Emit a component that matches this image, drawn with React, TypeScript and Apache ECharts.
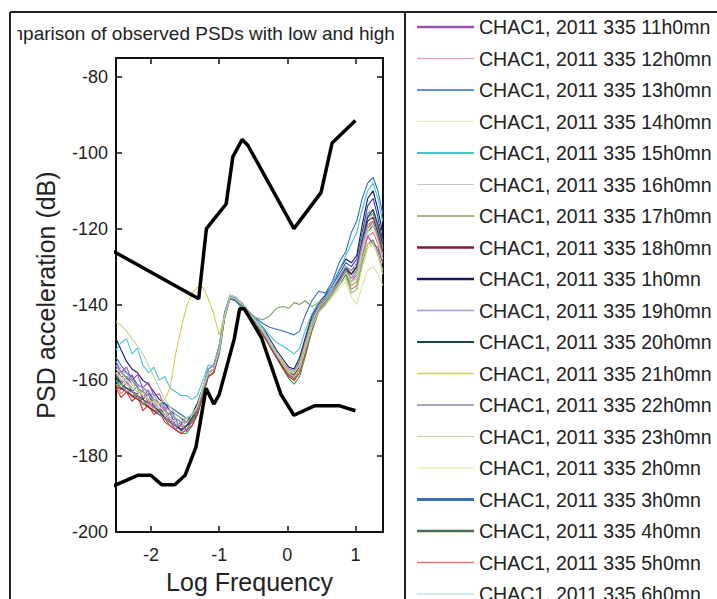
import React, { useEffect, useRef } from "react";
import * as echarts from "echarts";

const FONT = "'Liberation Sans', Arial, Helvetica, sans-serif";

const TITLE = "Comparison of observed PSDs with low and high";
const X_NAME = "Log Frequency";
const Y_NAME = "PSD acceleration (dB)";

const xTicks = [-2, -1, 0, 1];
const yTicks = [-200, -180, -160, -140, -120, -100, -80];

// log10(frequency) sampling of the observed PSD curves
const logFreq = [
  -2.515, -2.44, -2.36, -2.28, -2.2, -2.12, -2.04, -1.96, -1.88, -1.8,
  -1.72, -1.64, -1.56, -1.48, -1.4, -1.32, -1.24, -1.16, -1.08, -1.0,
  -0.92, -0.84, -0.76, -0.66, -0.56, -0.46, -0.36, -0.26, -0.16, -0.06,
  0.02, 0.1, 0.18, 0.26, 0.36, 0.46, 0.56, 0.66, 0.76, 0.86,
  0.94, 1.02, 1.1, 1.18, 1.26, 1.33, 1.4,
];

const psd0h = [
  -158, -161, -159.5, -163, -161.5, -165, -163.5, -167, -166, -170,
  -168.5, -172, -171, -173.5, -170, -167, -162, -157, -156, -151,
  -142, -137.5, -138, -140, -142, -144, -146.5, -149.5, -152.5, -155,
  -157, -157.5, -155, -150, -144, -140, -138, -135, -132, -129,
  -130, -128, -121, -114, -112, -117, -123,
];
const psd1h = [
  -149, -152, -155, -157, -158, -160, -161, -163, -165, -166,
  -168, -169, -170, -171, -169, -166, -162, -158, -157, -151,
  -142.5, -138, -138.5, -140, -142, -144, -146, -149, -152, -154.5,
  -156.5, -157, -154, -149, -143, -139.5, -137.5, -135, -131, -128,
  -129, -127, -119, -112, -110, -115, -121,
];
const psd2h = [
  -156, -158, -160, -160, -162, -163, -163, -165, -166, -168,
  -169, -170, -171, -171, -170, -168, -163, -159, -157, -152,
  -143, -138.5, -139, -140.5, -143, -145, -147.5, -150.5, -153.5, -156,
  -158, -158.5, -157, -152, -146, -142, -140, -138, -136, -134,
  -138, -140, -135, -131, -130, -132, -135,
];
const psd3h = [
  -160, -162.5, -160.5, -163, -163.5, -162.5, -166, -165, -168.5, -167.5,
  -171, -170, -173.5, -172, -171, -169, -164, -158, -157, -152,
  -143, -138, -138.5, -140, -142.5, -144.5, -147, -150, -153, -156,
  -158, -158.5, -156, -151, -145, -141, -139, -136, -133, -130,
  -132, -131, -124, -117, -115, -119, -124,
];
const psd4h = [
  -157, -159, -159, -161, -162, -164, -165, -166, -167, -169,
  -170, -171, -172, -172, -171, -169, -164, -159, -158, -153,
  -143.5, -138.5, -139, -140.5, -143, -145, -147.5, -150.5, -153.5, -156,
  -158.5, -159.5, -157, -152, -146, -141.5, -139.5, -137, -134.5, -132,
  -135, -134, -127, -121, -119, -122, -127,
];
const psd5h = [
  -161, -163.5, -162, -164.5, -164, -166.5, -165, -168, -167.5, -170,
  -170, -172, -173, -172, -171, -168, -163, -158, -157, -152,
  -143, -138, -138.5, -140, -142.5, -145, -147.5, -150.5, -153.5, -156.5,
  -159, -160, -158, -153, -147, -142, -140, -137, -135, -132,
  -136, -135, -128, -122, -121, -124, -129,
];
const psd6h = [
  -155, -157, -158, -160, -161, -162, -163, -165, -166, -167,
  -168, -170, -171, -170, -169, -167, -162, -157, -156, -151,
  -142.5, -137.5, -138, -139.5, -142, -144, -146.5, -149.5, -152.5, -155,
  -157, -157.5, -155.5, -150.5, -144.5, -140.5, -138.5, -136, -133.5, -130.5,
  -132, -131, -124, -118, -116, -120, -125,
];
const psd7h = [
  -160, -162, -163, -164, -164, -166, -167, -168, -169, -170,
  -172, -173, -174, -174, -172, -169, -164, -159, -158, -153,
  -143.5, -138, -138.5, -140, -143, -145, -147.5, -151, -154, -157,
  -159.5, -161, -159, -154, -147, -142, -140, -137.5, -135, -132,
  -137, -136, -129, -124, -123, -126, -131,
];
const psd8h = [
  -162, -164.5, -163, -165.5, -164, -168, -166.5, -169, -168, -171,
  -172, -173, -174, -173, -172, -169, -164, -159, -158, -152.5,
  -143, -138, -138.5, -140, -143, -145.5, -148, -151, -154, -157,
  -159, -160, -158, -153, -146.5, -141.5, -139.5, -137, -134, -131,
  -134, -133, -126, -120, -118, -121, -126,
];
const psd9h = [
  -159, -157.5, -160.5, -158.5, -162, -164.5, -162.5, -166.5, -168, -167,
  -171, -173, -171.5, -173, -171, -168, -163, -158, -157, -152,
  -143, -138, -138.5, -140, -142.5, -145, -147.5, -150.5, -153.5, -156,
  -158, -159, -157, -152, -146, -141.5, -139.5, -137, -134, -131,
  -134, -132, -126, -122, -124, -125, -129,
];
const psd10h = [
  -161, -162, -162, -163, -165, -165, -167, -168, -168, -170,
  -171, -172, -172, -172, -170, -168, -163, -158, -157, -152,
  -143, -138, -138.5, -140, -142.5, -145, -147, -150, -153, -155.5,
  -157.5, -158, -156, -151, -145, -141, -139, -136.5, -134, -131,
  -133, -132, -125, -120, -118, -122, -127,
];
const psd11h = [
  -155, -158, -156.5, -160, -158.5, -162, -160.5, -164, -163.5, -167,
  -168, -170, -171, -171, -170, -167, -162, -158, -157, -152,
  -143, -138, -138.5, -140, -142, -144.5, -147, -150, -153, -155.5,
  -157.5, -158, -156, -150.5, -144.5, -140.5, -138.5, -136, -133, -130,
  -131, -130, -122, -116, -115, -119, -124,
];
const psd12h = [
  -158, -160, -160, -162, -163, -163, -165, -166, -167, -168,
  -170, -171, -172, -171, -170, -168, -163, -158, -157, -152,
  -143, -138, -138.5, -140, -142.5, -144.5, -147, -150, -153, -155.5,
  -157.5, -158, -156, -151, -145, -141, -139, -136.5, -134, -131,
  -133, -132, -125, -119, -118, -121, -126,
];
const psd13h = [
  -154, -156, -158, -159, -161, -162, -163, -165, -166, -166,
  -167, -168, -169, -170, -169, -167, -162, -157, -156, -151,
  -142.5, -138, -139, -141, -142.5, -143.5, -145, -146, -146.5, -147,
  -147.5, -148, -147, -143, -139, -136.5, -137, -134, -129, -126,
  -121, -118, -112, -108, -106.5, -110, -116,
];
const psd14h = [
  -157, -158, -160, -161, -162, -163, -164, -165, -167, -168,
  -169, -170, -171, -171, -170, -168, -163, -158, -157, -152,
  -143, -138, -138.5, -140, -142.5, -144.5, -147, -150, -153, -155.5,
  -157.5, -158.5, -156.5, -151.5, -145.5, -141.5, -139.5, -137, -134.5, -131.5,
  -134, -133, -126, -121, -120, -123, -128,
];
const psd15h = [
  -152, -150, -149, -153, -151.5, -156, -158, -156.5, -160, -159,
  -162, -163, -164, -164, -165, -164, -160, -156, -156, -151,
  -142.5, -138, -138.5, -140, -142, -144, -146, -148, -150, -151,
  -152, -153, -151.5, -147, -142.5, -139.5, -138, -135, -131, -127,
  -124, -121, -115, -110, -108, -112, -118,
];
const psd16h = [
  -158, -159, -161, -162, -162, -164, -165, -166, -168, -169,
  -170, -171, -172, -172, -170, -168, -163, -158, -157, -152,
  -143, -138, -138.5, -140, -142.5, -145, -147.5, -150.5, -153.5, -156,
  -158, -159, -157, -152, -146, -141.5, -139.5, -137, -134, -131,
  -134, -133, -126, -120, -119, -123, -127,
];
const psd17h = [
  -156, -158, -159, -160, -162, -163, -164, -165, -166, -168,
  -169, -170, -171, -171, -170, -167, -162, -158, -157, -152,
  -143, -138, -138.5, -140, -142, -143.5, -144, -143, -141, -140.5,
  -141, -139.5, -140, -139, -140.5, -139.5, -138.5, -136, -133, -130,
  -132, -130, -123, -117, -116, -120, -125,
];
const psd18h = [
  -162, -162, -163, -164, -165, -166, -167, -168, -169, -170,
  -171, -172, -173, -172, -171, -168, -163, -158, -157, -152,
  -143, -138, -138.5, -140, -142.5, -145, -147.5, -150.5, -153.5, -156.5,
  -158.5, -159, -157, -152, -146, -141.5, -139.5, -137, -134, -131,
  -132, -130, -123, -118, -117, -121, -126,
];
const psd19h = [
  -156, -158, -158, -160, -161, -162, -163, -164, -166, -167,
  -168, -170, -171, -170, -169, -167, -162, -157, -156, -151,
  -142.5, -138, -138.5, -140, -142, -144.5, -147, -150, -153, -155.5,
  -157, -157.5, -155.5, -150.5, -144.5, -140.5, -138.5, -136, -133, -130,
  -131, -129, -122, -116, -115, -119, -124,
];
const psd20h = [
  -159, -161, -162, -163, -164, -165, -166, -167, -168, -170,
  -171, -172, -173, -172, -170, -168, -163, -158, -157, -152,
  -143, -138, -138.5, -140, -142.5, -145, -147.5, -150.5, -153.5, -156,
  -158, -158.5, -156.5, -151.5, -145.5, -141, -139, -136.5, -133.5, -130.5,
  -132, -130, -123, -117, -115, -119, -124,
];
const psd21h = [
  -158, -160, -161, -162, -163, -164, -165, -166, -166, -165,
  -162, -153, -146.5, -140.5, -137, -135.5, -135.5, -138.5, -142.5, -148,
  -143, -138, -138.5, -140, -142.5, -144.5, -147, -150, -153, -155.5,
  -157.5, -158, -156, -151, -145, -141, -139, -136.5, -134, -131,
  -135, -134, -128, -124, -124, -127, -131,
];
const psd22h = [
  -160, -161, -163, -163, -164, -166, -166, -167, -169, -170,
  -171, -172, -172, -173, -171, -168, -163, -158, -157, -152,
  -143, -138, -138.5, -140, -142.5, -145, -147.5, -150.5, -153.5, -156,
  -158.5, -159, -157, -152, -146, -141.5, -139.5, -137, -134, -131,
  -133, -131, -124, -119, -118, -122, -127,
];
const psd23h = [
  -144.5, -145.5, -147, -149, -151, -153, -156, -159, -162, -165,
  -167, -169, -170, -170, -169, -167, -162, -158, -157, -152,
  -143, -138, -138.5, -140, -142.5, -144.5, -147, -150, -153, -156,
  -158, -159, -157, -152, -146, -142, -140, -137.5, -135, -133,
  -137, -136, -130, -125, -124, -127, -132,
];

// Peterson New High / Low Noise Models (breakpoints in log10 frequency)
const nhnmLogF = [-2.55, -1.301, -1.1875, -0.898, -0.799, -0.663, -0.58, 0.097, 0.495, 0.658, 1.0];
const nhnmDb = [-126.0, -138.5, -120.0, -113.5, -101.0, -96.5, -98.0, -120.0, -110.5, -97.4, -91.5];
const nlnmLogF = [
  -2.55, -2.1875, -2.004, -1.845, -1.653, -1.4997, -1.34, -1.193, -1.079, -1.0,
  -0.778, -0.699, -0.633, -0.38, -0.0934, 0.097, 0.398, 0.77, 1.0,
];
const nlnmDb = [
  -187.8, -185.0, -185.0, -187.5, -187.5, -185.0, -177.5, -162.1, -166.25, -163.75,
  -149.0, -141.1, -141.1, -148.7, -163.7, -169.2, -166.7, -166.7, -168.0,
];

const hours = [
  "0h", "1h", "2h", "3h", "4h", "5h", "6h", "7h", "8h", "9h", "10h", "11h",
  "12h", "13h", "14h", "15h", "16h", "17h", "18h", "19h", "20h", "21h", "22h", "23h",
];
const hourColors = [
  "#2a3fd6", "#141c5a", "#e4df9c", "#3b6fb2", "#4d6b52", "#e07474", "#a9d0ef", "#2aa34a",
  "#dd2a2a", "#c036c0", "#c98a3a", "#a44fb5", "#d9a9d2", "#2f6dc7", "#dfe9cf", "#46c2c9",
  "#c3c6ca", "#7fa15d", "#7c1b3c", "#a993d9", "#134a3a", "#d6cc5c", "#8a8aa9", "#bcd896",
];
const legendOrder = [
  "11h", "12h", "13h", "14h", "15h", "16h", "17h", "18h", "1h", "19h",
  "20h", "21h", "22h", "23h", "2h", "3h", "4h", "5h", "6h", "7h", "8h", "9h", "10h", "0h",
];
const legendLineWidths = [
  2.5, 1.5, 1.5, 1, 2, 1, 1.5, 2.5, 2.5, 1.5,
  2, 1.5, 1.5, 1.2, 1.2, 3, 2.5, 1.5, 1.2, 1.5, 1.5, 1.5, 1.5, 1.5,
];

const psdByHour: Record<string, number[]> = {
  "0h": psd0h, "1h": psd1h, "2h": psd2h, "3h": psd3h, "4h": psd4h, "5h": psd5h,
  "6h": psd6h, "7h": psd7h, "8h": psd8h, "9h": psd9h, "10h": psd10h, "11h": psd11h,
  "12h": psd12h, "13h": psd13h, "14h": psd14h, "15h": psd15h, "16h": psd16h, "17h": psd17h,
  "18h": psd18h, "19h": psd19h, "20h": psd20h, "21h": psd21h, "22h": psd22h, "23h": psd23h,
};

const seriesLabel = (h: string) => `CHAC1, 2011 335 ${h}0mn`;

export default function App() {
  const ref = useRef<HTMLDivElement>(null);

  useEffect(() => {
    if (!ref.current) return;
    const chart = echarts.init(ref.current, null, { renderer: "svg" });

    const thinSeries = hours.map((h, i) => ({
      type: "line",
      name: seriesLabel(h),
      data: logFreq.map((x, k) => [x, psdByHour[h][k]]),
      symbol: "none",
      silent: true,
      clip: true,
      z: 2,
      itemStyle: { color: hourColors[i] },
      lineStyle: { color: hourColors[i], width: 1.1 },
    }));

    const modelSeries = [
      {
        type: "line",
        name: "NHNM",
        data: nhnmLogF.map((x, k) => [x, nhnmDb[k]]),
        symbol: "none",
        silent: true,
        clip: true,
        z: 3,
        lineStyle: { color: "#000", width: 3.5 },
        itemStyle: { color: "#000" },
      },
      {
        type: "line",
        name: "NLNM",
        data: nlnmLogF.map((x, k) => [x, nlnmDb[k]]),
        symbol: "none",
        silent: true,
        clip: true,
        z: 3,
        lineStyle: { color: "#000", width: 3.5 },
        itemStyle: { color: "#000" },
      },
    ];

    const axisLine = { show: true, onZero: false, lineStyle: { color: "#111", width: 2 } };
    const tickStyle = { color: "#111", width: 1.5 };

    const option = {
      animation: false,
      backgroundColor: "#ffffff",
      textStyle: { fontFamily: FONT },
      grid: { left: 116, top: 58, width: 267, height: 475, containLabel: false },
      xAxis: [
        {
          type: "value",
          position: "bottom",
          min: -2.515,
          max: 1.405,
          splitLine: { show: false },
          axisLine,
          axisTick: { show: true, inside: true, length: 6, customValues: xTicks, lineStyle: tickStyle },
          axisLabel: {
            show: true,
            customValues: xTicks,
            margin: 14,
            color: "#222",
            fontSize: 18,
            fontFamily: FONT,
          },
          name: X_NAME,
          nameLocation: "middle",
          nameGap: 36,
          nameTextStyle: { fontSize: 25, color: "#222", fontFamily: FONT },
        },
        {
          type: "value",
          position: "top",
          min: -2.515,
          max: 1.405,
          splitLine: { show: false },
          axisLine,
          axisTick: { show: true, inside: true, length: 6, customValues: xTicks, lineStyle: tickStyle },
          axisLabel: { show: false },
        },
      ],
      yAxis: [
        {
          type: "value",
          position: "left",
          min: -200,
          max: -75,
          splitLine: { show: false },
          axisLine,
          axisTick: { show: true, inside: true, length: 6, customValues: yTicks, lineStyle: tickStyle },
          axisLabel: {
            show: true,
            customValues: yTicks,
            margin: 8,
            color: "#222",
            fontSize: 18,
            fontFamily: FONT,
          },
          name: Y_NAME,
          nameLocation: "middle",
          nameGap: 58,
          nameTextStyle: { fontSize: 25, color: "#222", fontFamily: FONT },
        },
        {
          type: "value",
          position: "right",
          min: -200,
          max: -75,
          splitLine: { show: false },
          axisLine,
          axisTick: { show: true, inside: true, length: 6, customValues: yTicks, lineStyle: tickStyle },
          axisLabel: { show: false },
        },
      ],
      legend: {
        orient: "vertical",
        left: 417,
        top: 17,
        height: 1400,
        padding: 0,
        itemWidth: 57,
        itemHeight: 14,
        itemGap: 11.5,
        selectedMode: false,
        z: 4,
        itemStyle: { borderWidth: 0 },
        textStyle: { fontSize: 19.5, fontFamily: FONT, color: "#222", lineHeight: 20 },
        data: legendOrder.map((h, i) => ({
          name: seriesLabel(h),
          icon: `path://M0 0H57V${legendLineWidths[i]}H0Z`,
        })),
      },
      graphic: [
        {
          type: "text",
          x: -17,
          y: 33.5,
          z: 0,
          style: {
            text: TITLE,
            fontSize: 19,
            fontFamily: FONT,
            fill: "#222",
            align: "left",
            verticalAlign: "middle",
          },
        },
        { type: "rect", z: 1, shape: { x: 0, y: 13, width: 17, height: 40 }, style: { fill: "#ffffff" } },
        { type: "line", z: 5, shape: { x1: 10, y1: 12, x2: 717, y2: 12 }, style: { stroke: "#222", lineWidth: 2 } },
        { type: "line", z: 5, shape: { x1: 10, y1: 12, x2: 10, y2: 599 }, style: { stroke: "#222", lineWidth: 2 } },
        { type: "line", z: 5, shape: { x1: 405, y1: 12, x2: 405, y2: 599 }, style: { stroke: "#222", lineWidth: 2 } },
      ],
      series: [...thinSeries, ...modelSeries],
    };

    chart.setOption(option as any);
    return () => {
      chart.dispose();
    };
  }, []);

  return (
    <div
      ref={ref}
      style={{ position: "absolute", left: 0, top: 0, width: 717, height: 599, background: "#fff" }}
    />
  );
}
